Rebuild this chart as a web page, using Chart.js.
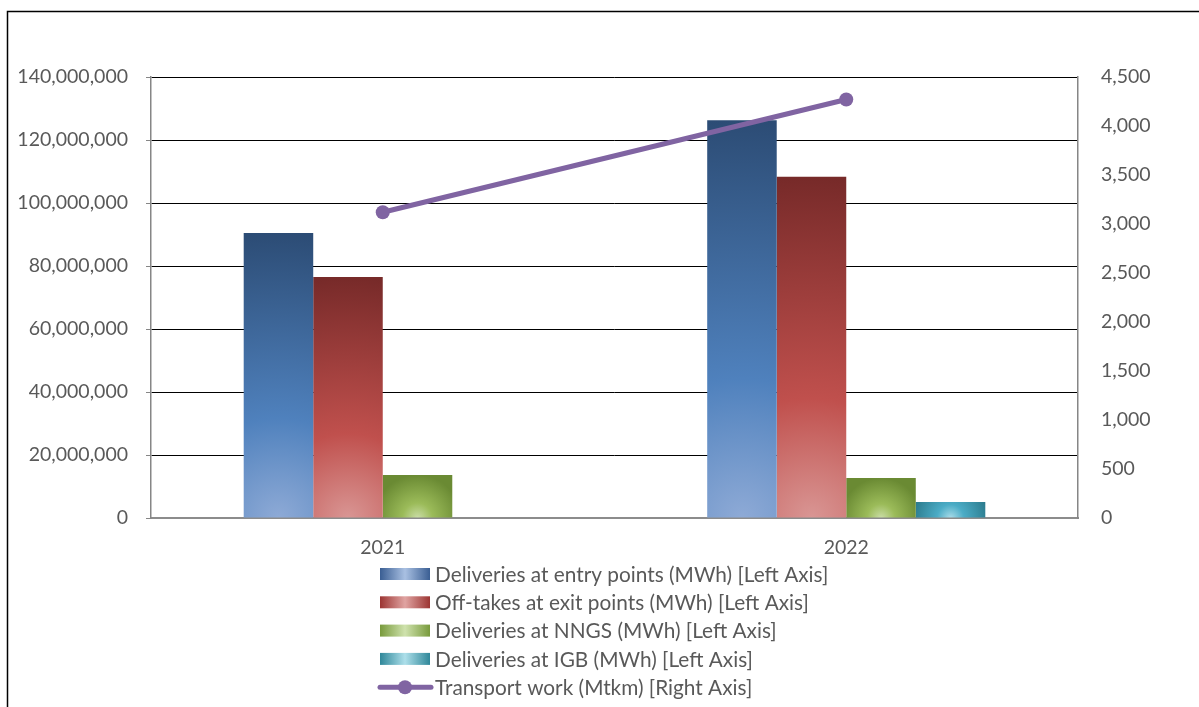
<!DOCTYPE html>
<html><head><meta charset="utf-8">
<script src="https://cdn.jsdelivr.net/npm/chart.js@4.4.1/dist/chart.umd.min.js"></script>
<style>html,body{margin:0;padding:0;background:#fff;}#wrap{position:relative;width:1199px;height:707px;}</style>
</head><body><div id="wrap"><canvas id="c"></canvas></div>
<script>
const categories = ['2021', '2022'];
const entryPoints = [90500000, 126300000];
const exitPoints = [76500000, 108300000];
const nngsDeliveries = [13650000, 12700000];
const igbDeliveries = [null, 5100000];
const transportWork = [3120, 4270];
const leftTicks = [0, 20000000, 40000000, 60000000, 80000000, 100000000, 120000000, 140000000];
const rightTicks = [0, 500, 1000, 1500, 2000, 2500, 3000, 3500, 4000, 4500];
const seriesLabels = [
  'Deliveries at entry points (MWh) [Left Axis]',
  'Off-takes at exit points (MWh) [Left Axis]',
  'Deliveries at NNGS (MWh) [Left Axis]',
  'Deliveries at IGB (MWh) [Left Axis]',
  'Transport work (Mtkm) [Right Axis]'
];

const FONT_FAMILY = 'Lato, "Open Sans", sans-serif';
const FONT_SIZE = 19.5;
const LEGEND_FONT_SIZE = 20.8;
const TEXT = '#595959';
const palettes = [
  ['#8EAAD6', '#4F81BD', '#2C4C75'],
  ['#D99694', '#C0504D', '#772A29'],
  ['#CADDA6', '#9BBB59', '#6A8A33'],
  ['#A9DCE9', '#4BACC6', '#2B7A8C']
];
const swatches = [
  ['#3A5E93', '#A9C0E2'],
  ['#9C3533', '#E0A4A2'],
  ['#789A3C', '#CFE2AD'],
  ['#2F8799', '#ADDFEA']
];
const LINE_COLOR = '#8064A2';
const CAT_PCT = 0.6;
const NBARS = 4;

function barFill(ctx) {
  const p = palettes[ctx.datasetIndex];
  const chart = ctx.chart;
  if (ctx.type !== 'data' || !chart.chartArea) return p[1];
  const xs = chart.scales.x, ys = chart.scales.y;
  const v = ctx.raw;
  if (!xs || !ys || v == null) return p[1];
  const step = xs.getPixelForValue(1) - xs.getPixelForValue(0);
  const bw = step * CAT_PCT / NBARS;
  const cx = xs.getPixelForValue(ctx.dataIndex) + (ctx.datasetIndex - (NBARS - 1) / 2) * bw;
  const base = ys.getPixelForValue(0), top = ys.getPixelForValue(v);
  const h = base - top;
  const r = Math.max(h, bw * 0.55);
  if (!isFinite(cx) || !isFinite(r) || r <= 0) return p[1];
  const g = chart.ctx.createRadialGradient(cx, base, 0, cx, base, r);
  g.addColorStop(0, p[0]);
  g.addColorStop(0.35, p[1]);
  g.addColorStop(1, p[2]);
  return g;
}

const framePlugin = {
  id: 'frame',
  beforeDraw(chart) {
    const c = chart.ctx;
    c.save();
    c.strokeStyle = '#000';
    c.lineWidth = 1.5;
    c.beginPath();
    c.moveTo(7.5, 707);
    c.lineTo(7.5, 11.5);
    c.lineTo(1199, 11.5);
    c.stroke();
    c.restore();
  }
};

const legendPlugin = {
  id: 'customLegend',
  afterDraw(chart) {
    const c = chart.ctx;
    c.save();
    c.font = LEGEND_FONT_SIZE + 'px ' + FONT_FAMILY;
    c.textBaseline = 'middle';
    c.textAlign = 'left';
    const x0 = 380, x1 = 430;
    chart.data.datasets.forEach((ds, i) => {
      const y = 574 + i * 28.3;
      if (ds.type === 'line') {
        c.strokeStyle = LINE_COLOR;
        c.lineWidth = 5;
        c.lineCap = 'round';
        c.beginPath();
        c.moveTo(x0, y);
        c.lineTo(x1 + 1, y);
        c.stroke();
        c.fillStyle = LINE_COLOR;
        c.beginPath();
        c.arc((x0 + x1) / 2, y, 7, 0, Math.PI * 2);
        c.fill();
      } else {
        const s = swatches[i];
        const g = c.createLinearGradient(x0, 0, x1, 0);
        g.addColorStop(0, s[0]);
        g.addColorStop(0.5, s[1]);
        g.addColorStop(1, s[0]);
        c.fillStyle = g;
        c.fillRect(x0, y - 6, x1 - x0, 12);
      }
      c.fillStyle = TEXT;
      c.fillText(ds.label, 435, y + 1);
    });
    c.restore();
  }
};

const fmt = v => Number(v).toLocaleString('en-US');

new Chart(document.getElementById('c'), {
  type: 'bar',
  data: {
    labels: categories,
    datasets: [
      { label: seriesLabels[0], data: entryPoints, backgroundColor: barFill, yAxisID: 'y' },
      { label: seriesLabels[1], data: exitPoints, backgroundColor: barFill, yAxisID: 'y' },
      { label: seriesLabels[2], data: nngsDeliveries, backgroundColor: barFill, yAxisID: 'y' },
      { label: seriesLabels[3], data: igbDeliveries, backgroundColor: barFill, yAxisID: 'y' },
      { type: 'line', label: seriesLabels[4], data: transportWork, yAxisID: 'y1', order: -1,
        borderColor: LINE_COLOR, backgroundColor: LINE_COLOR, borderWidth: 5, tension: 0,
        pointRadius: 7, pointHoverRadius: 7, pointBorderWidth: 0, pointBackgroundColor: LINE_COLOR }
    ]
  },
  options: {
    responsive: true,
    maintainAspectRatio: false,
    animation: false,
    layout: { padding: { top: 77, left: 0, right: 0, bottom: 0 } },
    datasets: { bar: { categoryPercentage: CAT_PCT, barPercentage: 1.0, borderWidth: 0 } },
    plugins: { legend: { display: false }, tooltip: { enabled: false } },
    font: { family: FONT_FAMILY, size: FONT_SIZE },
    scales: {
      x: {
        type: 'category',
        offset: true,
        grid: { display: false, drawTicks: false },
        border: { display: true, color: '#8C8C8C', width: 2 },
        ticks: { color: TEXT, font: { family: FONT_FAMILY, size: FONT_SIZE }, padding: 18, maxRotation: 0 },
        afterFit: s => { s.height = 189; }
      },
      y: {
        position: 'left',
        min: 0, max: 140000000,
        afterBuildTicks: s => { s.ticks = leftTicks.map(v => ({ value: v })); },
        grid: {
          color: c => (c.tick && c.tick.value === 0) ? 'rgba(0,0,0,0)' : '#000',
          lineWidth: 1,
          tickColor: '#868686',
          tickLength: 5,
          drawTicks: true
        },
        border: { display: true, color: '#868686', width: 1.5 },
        ticks: { color: TEXT, font: { family: FONT_FAMILY, size: FONT_SIZE }, padding: 18, callback: fmt },
        afterFit: s => { s.width = 151; }
      },
      y1: {
        position: 'right',
        min: 0, max: 4500,
        afterBuildTicks: s => { s.ticks = rightTicks.map(v => ({ value: v })); },
        grid: { display: false, drawTicks: false },
        border: { display: true, color: '#868686', width: 1.5 },
        ticks: { color: TEXT, font: { family: FONT_FAMILY, size: FONT_SIZE }, padding: 23, callback: fmt },
        afterFit: s => { s.width = 121; }
      }
    }
  },
  plugins: [framePlugin, legendPlugin]
});
</script></body></html>
